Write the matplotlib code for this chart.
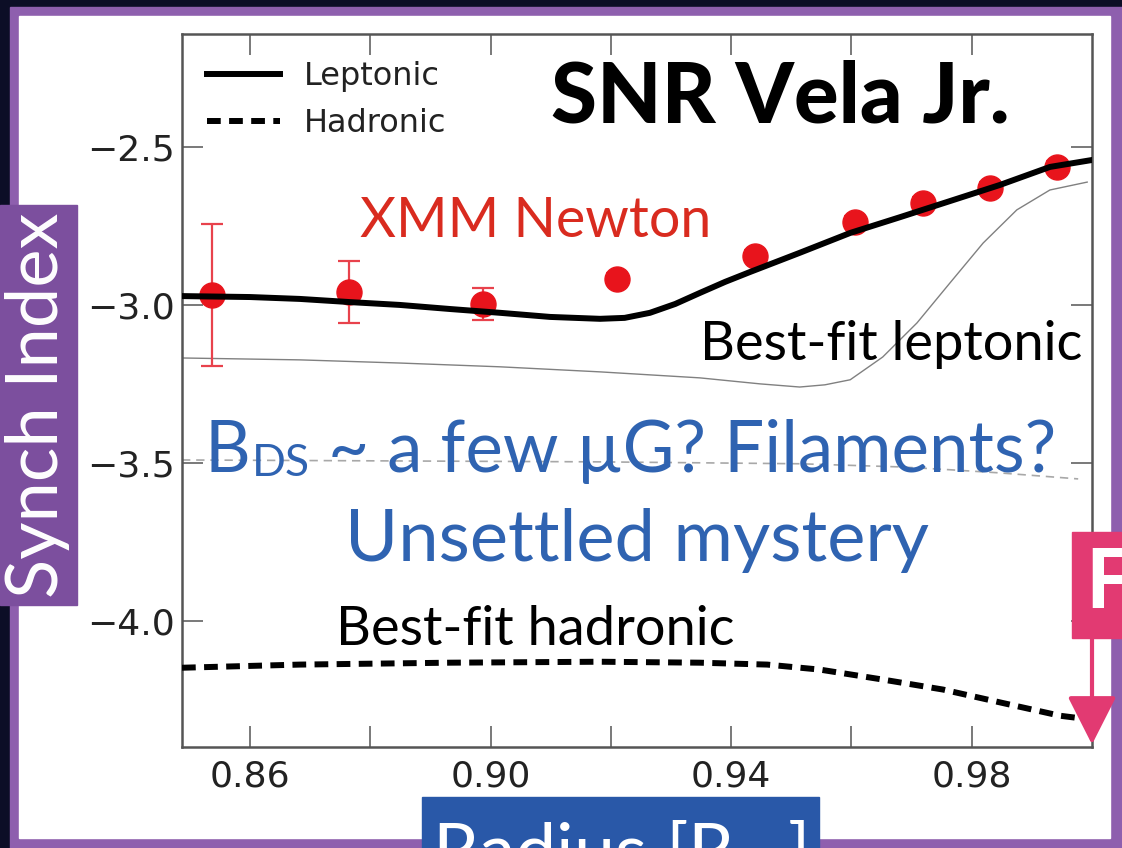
import matplotlib.pyplot as plt
from matplotlib.patches import Rectangle

plt.rcParams['mathtext.fontset'] = 'custom'
plt.rcParams['mathtext.rm'] = 'Lato'

# XMM-Newton synchrotron index vs radius
radius = [0.8537, 0.8765, 0.8987, 0.9210, 0.9440, 0.9606, 0.9719, 0.9830, 0.9942]
index = [-2.968, -2.959, -2.997, -2.918, -2.845, -2.737, -2.677, -2.630, -2.563]
index_err = [0.225, 0.098, 0.05, 0.02, 0.02, 0.02, 0.02, 0.02, 0.02]

# best-fit leptonic model
lep_r = [0.8487, 0.86, 0.8683, 0.8766, 0.8849, 0.8933, 0.9016, 0.9099, 0.9182,
         0.9223, 0.9265, 0.9307, 0.9348, 0.9390, 0.9431, 0.9514, 0.9598, 0.9681,
         0.9764, 0.9847, 0.9930, 1.0]
lep_idx = [-2.972, -2.975, -2.981, -2.991, -3.000, -3.013, -3.025, -3.038, -3.044,
           -3.041, -3.025, -2.997, -2.962, -2.927, -2.896, -2.835, -2.772, -2.722,
           -2.671, -2.620, -2.563, -2.541]

# second leptonic curve (thin)
lep2_r = [0.8487, 0.8683, 0.8849, 0.9016, 0.9182, 0.9348, 0.9448, 0.9514, 0.9556,
          0.9598, 0.9652, 0.9709, 0.9764, 0.9819, 0.9875, 0.9930, 0.9992]
lep2_idx = [-3.168, -3.174, -3.184, -3.196, -3.212, -3.231, -3.250, -3.260, -3.253,
            -3.237, -3.165, -3.057, -2.930, -2.804, -2.699, -2.636, -2.611]

# reference curve (thin dashed)
ref_r = [0.8487, 0.9182, 0.9514, 0.9681, 0.9764, 0.9847, 0.9977]
ref_idx = [-3.491, -3.497, -3.503, -3.513, -3.522, -3.532, -3.551]

# best-fit hadronic model
had_r = [0.8487, 0.8683, 0.8933, 0.9182, 0.9348, 0.9460, 0.9548, 0.9654, 0.9752,
         0.9850, 0.9947, 0.9972]
had_idx = [-4.149, -4.139, -4.133, -4.130, -4.133, -4.139, -4.155, -4.187, -4.218,
           -4.260, -4.301, -4.307]

xticks = [0.86, 0.88, 0.90, 0.92, 0.94, 0.96, 0.98]
xticklabels = ['0.86', '', '0.90', '', '0.94', '', '0.98']
yticks = [-4.0, -3.5, -3.0, -2.5]

W, H = 1122, 848
fig = plt.figure(figsize=(W / 100, H / 100), dpi=100, facecolor='#0c0e26')

# slide frame
fig.patches.append(Rectangle((10 / W, 0), 1, 1 - 7 / H, transform=fig.transFigure,
                             color='#8e5fae', zorder=0))
fig.patches.append(Rectangle((19 / W, 1 - 838 / H), 1091 / W, 822 / H,
                             transform=fig.transFigure, color='white', zorder=0))

ax = fig.add_axes([182 / W, 1 - 747 / H, 910 / W, 713 / H])
ax.set_zorder(2)
ax.set_facecolor('none')

ax.plot(lep2_r, lep2_idx, color='#808080', lw=1.0, zorder=2)
ax.plot(ref_r, ref_idx, color='#a8a8a8', lw=1.2, ls=(0, (5, 3.5)), zorder=2)
ax.errorbar(radius, index, yerr=index_err, fmt='o', color='#e8141c', ms=18,
            ecolor='#e8424c', elinewidth=1.6, capsize=8, capthick=1.6, zorder=3)
ax.plot(lep_r, lep_idx, color='black', lw=4.3, label='Leptonic', zorder=4)
ax.plot(had_r, had_idx, color='black', lw=4.3, ls=(0, (2.3, 1.4)),
        label='Hadronic', zorder=4)

ax.set_xlim(0.8487, 1.0)
ax.set_ylim(-4.4, -2.142)
ax.set_xticks(xticks)
ax.set_xticklabels(xticklabels)
ax.set_yticks(yticks)
ax.tick_params(direction='in', length=15, width=1.1, color='#555555',
               labelsize=26, labelcolor='#222222', top=True, right=True)
ax.tick_params(axis='x', pad=9)
ax.tick_params(axis='y', pad=5)
for s in ax.spines.values():
    s.set_color('#555555')
    s.set_linewidth(1.8)

ax.legend(loc='upper left', bbox_to_anchor=(0.0275, 0.962), frameon=False,
          fontsize=23, handlelength=2.3, handletextpad=0.72, labelspacing=0.5,
          borderpad=0, borderaxespad=0, labelcolor='#222222')

# annotations
ax.text(0.9481, -2.345, 'SNR Vela Jr.', fontsize=60, fontweight='black',
        family='Lato', ha='center', va='center')
ax.text(0.8783, -2.737, 'XMM Newton', fontsize=40, color='#d92b1f',
        family='Lato', ha='left', va='center')
ax.text(0.9666, -3.174, 'Best-fit leptonic', fontsize=39, family='Lato',
        ha='center', va='baseline')
ax.text(0.9074, -4.076, 'Best-fit hadronic', fontsize=39, family='Lato',
        ha='center', va='baseline')

blue = '#2f63b1'
b = ax.text(0.8525, -3.528, 'B', fontsize=51, color=blue, family='Lato',
            ha='left', va='baseline')
ds = ax.annotate('DS', xy=(1, 0), xycoords=b, xytext=(1, 0),
                 textcoords='offset points', fontsize=32, color=blue,
                 family='Lato', ha='left', va='bottom')
ax.annotate(' ~ a few \u00b5G? Filaments?', xy=(1, 0), xycoords=ds,
            xytext=(0, 0), textcoords='offset points', fontsize=51, color=blue,
            family='Lato', ha='left', va='bottom')
ax.text(0.9244, -3.812, 'Unsettled mystery', fontsize=52, color=blue,
        family='Lato', ha='center', va='baseline')

# forward shock marker
ax.annotate('', xy=(1.0, -4.392), xytext=(1.0, -4.054),
            arrowprops=dict(arrowstyle='-|>,head_length=0.75,head_width=0.38',
                            color='#e23a72', lw=3, mutation_scale=40,
                            shrinkA=0, shrinkB=0),
            annotation_clip=False, zorder=6)

# slide labels
fig.patches.append(Rectangle((0, 1 - 605 / H), 77 / W, 400 / H,
                             transform=fig.transFigure, color='#7c4f9e', zorder=3))
fig.text(38 / W, 1 - 405 / H, 'Synch Index', rotation=90, color='white',
         fontsize=52, family='Lato', ha='center', va='center', zorder=4)
fig.patches.append(Rectangle((422 / W, 0), 397 / W, 51 / H,
                             transform=fig.transFigure, color='#2958a8', zorder=3))
fig.text(432 / W, 1 - 876 / H, 'Radius [R$_\\mathrm{sh}$]', color='white',
         fontsize=53, family='Lato', ha='left', va='baseline', zorder=4)
fig.patches.append(Rectangle((1072 / W, 1 - 638 / H), 50 / W, 106 / H,
                             transform=fig.transFigure, color='#e23a72', zorder=3))
fig.text(1085 / W, 1 - 585 / H, 'FS', color='white', fontsize=60,
         fontweight='bold', family='Lato', ha='left', va='center', zorder=4)

fig.savefig('out.png', dpi=100, facecolor=fig.get_facecolor())
